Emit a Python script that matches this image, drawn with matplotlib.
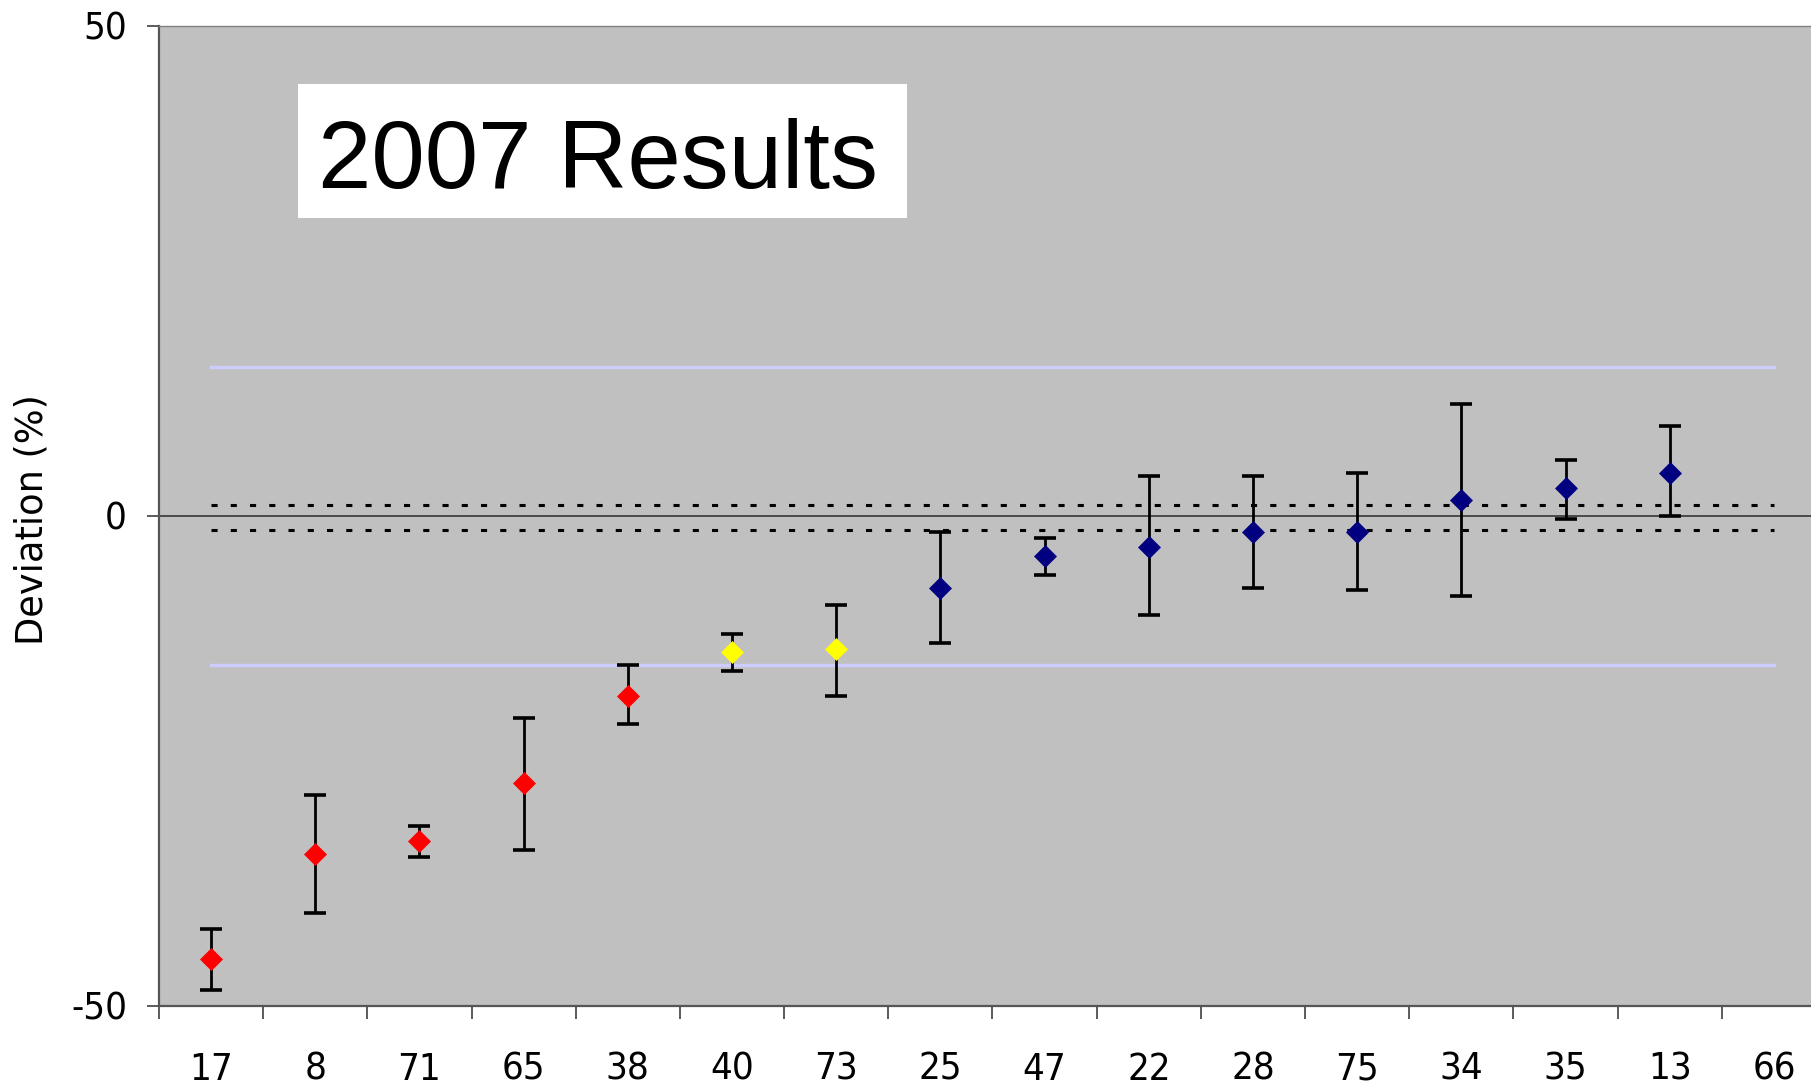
import numpy as np
import matplotlib
matplotlib.use("Agg")
import matplotlib.pyplot as plt
from matplotlib.patches import Rectangle

plt.rcParams['axes.unicode_minus'] = False

# lab codes along the x axis (ordered by deviation)
labs = ['17', '8', '71', '65', '38', '40', '73', '25', '47', '22', '28', '75', '34', '35', '13', '66']
# deviation (%) and error-bar ends (66 has no result)
deviation = [-45.2, -34.5, -33.2, -27.2, -18.4, -13.9, -13.6, -7.3, -4.1, -3.2, -1.6, -1.6, 1.6, 2.9, 4.4, np.nan]
err_high = [-42.1, -28.5, -31.6, -20.6, -15.2, -12.0, -9.1, -1.6, -2.2, 4.1, 4.1, 4.4, 11.4, 5.7, 9.2, np.nan]
err_low = [-48.4, -40.5, -34.8, -34.1, -21.2, -15.8, -18.4, -13.0, -6.0, -10.1, -7.3, -7.6, -8.2, -0.3, 0.0, np.nan]
# result class of each lab
status = ['bad'] * 5 + ['warn'] * 2 + ['good'] * 8 + ['none']

limit_band = 15.2          # light blue lines
ref_upper = 1.1            # dotted lines
ref_lower = -1.4
yticks = [-50, 0, 50]

colours = {'bad': '#FF0000', 'warn': '#FFFF00', 'good': '#000080', 'none': 'none'}

W, H = 1811, 1085
fig = plt.figure(figsize=(W / 100, H / 100), dpi=100)
ax = fig.add_axes([159 / W, 79 / H, 1667 / W, 980 / H])
ax.set_facecolor('#C0C0C0')

x = np.arange(len(labs))
dev = np.array(deviation)
hi = np.array(err_high)
lo = np.array(err_low)

ax.axhline(0, color='#404040', lw=1.3, zorder=1)
ax.plot([x[0], x[-1]], [limit_band, limit_band], color='#CCCCFF', lw=2.4, zorder=2)
ax.plot([x[0], x[-1]], [-limit_band, -limit_band], color='#CCCCFF', lw=2.4, zorder=2)
ax.plot([x[0], x[-1]], [ref_upper, ref_upper], color='black', lw=2.2,
        ls=(0, (2, 4.3)), zorder=2)
ax.plot([x[0], x[-1]], [ref_lower, ref_lower], color='black', lw=2.2,
        ls=(0, (2, 4.3)), zorder=2)

ax.errorbar(x, dev, yerr=[dev - lo, hi - dev], fmt='none', ecolor='black',
            elinewidth=2.0, capsize=7.7, capthick=2.6, zorder=3)
for s in ['bad', 'warn', 'good']:
    idx = [i for i, v in enumerate(status) if v == s]
    ax.plot(x[idx], dev[idx], ls='none', marker='D', ms=10.8,
            color=colours[s], mec=colours[s], mew=0.5, zorder=4)

ax.set_xlim(-0.5, len(labs) - 0.5)
ax.set_ylim(-50, 50)

# ticks between categories, labels at category centres
ax.set_xticks(np.arange(len(labs) + 1) - 0.5)
ax.set_xticklabels([])
ax.set_xticks(x, minor=True)
ax.set_xticklabels(labs, minor=True)
ax.tick_params(axis='x', which='major', length=9, width=1.2, color='#404040')
ax.tick_params(axis='x', which='minor', length=0, pad=33, labelsize=27.5)
ax.set_yticks(yticks)
ax.tick_params(axis='y', length=9, width=1.2, color='#404040', pad=14, labelsize=27.5)
for lab in ax.get_xticklabels(minor=True) + ax.get_yticklabels():
    lab.set_fontfamily('DejaVu Sans')
    lab.set_fontstretch('condensed')

for side in ['left', 'bottom']:
    ax.spines[side].set_color('#555555')
    ax.spines[side].set_linewidth(1.6)
ax.spines['top'].set_color('#808080')
ax.spines['top'].set_linewidth(1.0)
ax.spines['right'].set_visible(False)

fig.text(32 / W, 1 - 520 / H, 'Deviation (%)', rotation=90, ha='center', va='center',
         fontsize=26.5, family='DejaVu Sans')

# title box
fig.patches.append(Rectangle((298 / W, 1 - 218 / H), 609 / W, 134 / H,
                             transform=fig.transFigure, facecolor='white',
                             edgecolor='none', zorder=5))
fig.text(318 / W, 1 - 188 / H, '2007 Results', ha='left', va='baseline',
         fontsize=69, family='Liberation Sans', zorder=6)

fig.savefig('out.png', dpi=100)
